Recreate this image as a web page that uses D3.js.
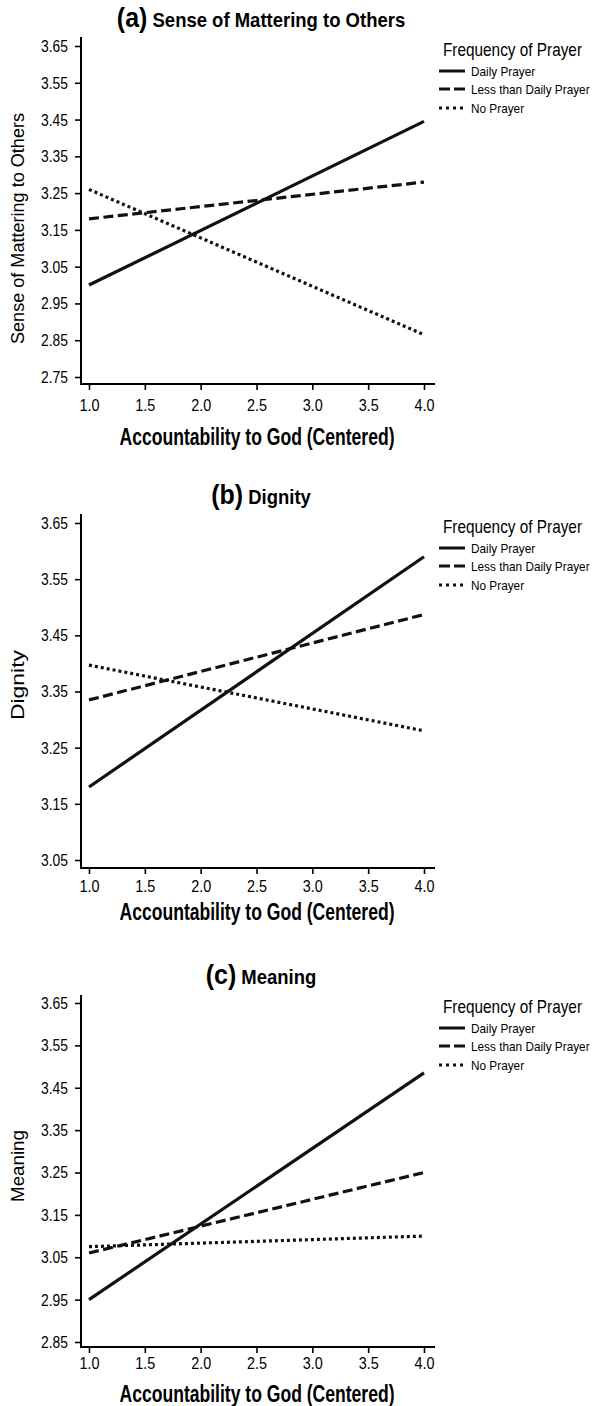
<!DOCTYPE html>
<html><head><meta charset="utf-8">
<script src="https://cdn.jsdelivr.net/npm/d3@7"></script>
<style>
body{margin:0;background:#fff}
svg{display:block}
text{font-family:"Liberation Sans",Arial,Helvetica,sans-serif;fill:#000}
</style>
</head><body><svg id="chart" width="600" height="1406"></svg>
<script>
// ---------- data ----------
const xValues = [1.0, 4.0];
const xTicks = [1.0, 1.5, 2.0, 2.5, 3.0, 3.5, 4.0];
const seriesNames = ["Daily Prayer", "Less than Daily Prayer", "No Prayer"];
const legendTitle = "Frequency of Prayer";
const xTitle = "Accountability to God (Centered)";
const panelLetters = ["(a)", "(b)", "(c)"];
const panelTitles = ["Sense of Mattering to Others", "Dignity", "Meaning"];
const yTitles = ["Sense of Mattering to Others", "Dignity", "Meaning"];
const yTicksA = [2.75, 2.85, 2.95, 3.05, 3.15, 3.25, 3.35, 3.45, 3.55, 3.65];
const yTicksB = [3.05, 3.15, 3.25, 3.35, 3.45, 3.55, 3.65];
const yTicksC = [2.85, 2.95, 3.05, 3.15, 3.25, 3.35, 3.45, 3.55, 3.65];
const matteringDaily = [3.00, 3.445];
const matteringLess  = [3.18, 3.28];
const matteringNone  = [3.26, 2.865];
const dignityDaily   = [3.18, 3.59];
const dignityLess    = [3.335, 3.487];
const dignityNone    = [3.397, 3.28];
const meaningDaily   = [2.95, 3.485];
const meaningLess    = [3.06, 3.25];
const meaningNone    = [3.075, 3.10];

// ---------- layout ----------
const dashes = [null, "10,4.5", "3,3"];
const xLeft = 81, xRight = 435;
const panels = [
  {ticks: yTicksA, series: [matteringDaily, matteringLess, matteringNone],
   yTopPx: 46, yBotPx: 377, axisTop: 37, axisBottom: 384, tickLabY: 405, xTitleY: 437, yTitleLen: 231, titleLen: 253},
  {ticks: yTicksB, series: [dignityDaily, dignityLess, dignityNone],
   yTopPx: 523, yBotPx: 860, axisTop: 514, axisBottom: 868, tickLabY: 886, xTitleY: 912, yTitleLen: 70, titleLen: 63},
  {ticks: yTicksC, series: [meaningDaily, meaningLess, meaningNone],
   yTopPx: 1003, yBotPx: 1342, axisTop: 995, axisBottom: 1347, tickLabY: 1363, xTitleY: 1394, yTitleLen: 72, titleLen: 76}
];

const svg = d3.select("#chart");
const x = d3.scaleLinear().domain([1, 4]).range([89, 424]);

panels.forEach((p, i) => {
  const g = svg.append("g");
  const y = d3.scaleLinear()
    .domain([d3.min(p.ticks), d3.max(p.ticks)])
    .range([p.yBotPx, p.yTopPx]);

  // axis lines
  g.append("line").attr("x1", xLeft).attr("x2", xLeft)
    .attr("y1", p.axisTop).attr("y2", p.axisBottom + 1)
    .attr("stroke", "#000").attr("stroke-width", 2);
  g.append("line").attr("x1", xLeft).attr("x2", xRight)
    .attr("y1", p.axisBottom).attr("y2", p.axisBottom)
    .attr("stroke", "#000").attr("stroke-width", 2);

  // y axis
  const ya = g.append("g").attr("transform", `translate(${xLeft},0)`)
    .call(d3.axisLeft(y).tickValues(p.ticks).tickFormat(d3.format(".2f"))
      .tickSize(6).tickSizeOuter(0).tickPadding(7));
  ya.select(".domain").remove();
  ya.selectAll(".tick line").attr("stroke", "#000").attr("stroke-width", 1.6);
  ya.selectAll(".tick text").attr("font-size", 17).attr("textLength", 27)
    .attr("lengthAdjust", "spacingAndGlyphs").attr("fill", "#000")
    .style("font-family", '"Liberation Sans",Arial,sans-serif');

  // x axis
  const xa = g.append("g").attr("transform", `translate(0,${p.axisBottom})`)
    .call(d3.axisBottom(x).tickValues(xTicks).tickFormat(d3.format(".1f"))
      .tickSize(6).tickSizeOuter(0));
  xa.select(".domain").remove();
  xa.selectAll(".tick line").attr("stroke", "#000").attr("stroke-width", 1.6);
  xa.selectAll(".tick text").attr("font-size", 17).attr("textLength", 20)
    .attr("lengthAdjust", "spacingAndGlyphs").attr("fill", "#000")
    .attr("y", p.tickLabY - p.axisBottom).attr("dy", "0.36em")
    .style("font-family", '"Liberation Sans",Arial,sans-serif');

  // x title
  g.append("text").attr("transform", `translate(257,${p.xTitleY}) scale(1,1.3)`)
    .attr("text-anchor", "middle").attr("dy", "0.36em")
    .attr("font-size", 17.7).attr("font-weight", "bold")
    .attr("textLength", 275).attr("lengthAdjust", "spacingAndGlyphs")
    .text(xTitle);

  // y title
  const cy = (p.axisTop + p.axisBottom) / 2 + (i === 0 ? 18 : (i === 1 ? -6 : -5));
  g.append("text").attr("transform", `translate(24,${cy}) rotate(-90)`)
    .attr("text-anchor", "middle").attr("font-size", 17.5)
    .attr("textLength", p.yTitleLen).attr("lengthAdjust", "spacingAndGlyphs")
    .text(yTitles[i]);

  // panel title
  const tb = p.yTopPx - 19;
  const t = g.append("text").attr("transform", `translate(261,${tb}) scale(1,1.12)`)
    .attr("text-anchor", "middle").attr("font-weight", "bold");
  t.append("tspan").attr("font-size", 25).text(panelLetters[i]);
  t.append("tspan").attr("font-size", 18.5).text(" " + panelTitles[i]);

  // lines
  const line = d3.line().x((d, k) => x(xValues[k])).y(d => y(d));
  p.series.forEach((s, k) => {
    g.append("path").datum(s).attr("d", line)
      .attr("fill", "none").attr("stroke", "#111").attr("stroke-width", 3.2)
      .attr("stroke-dasharray", dashes[k]);
  });

  // legend
  const lg = g.append("g");
  lg.append("text").attr("transform", `translate(443,${p.yTopPx + 10}) scale(1,1.25)`)
    .attr("font-size", 15.3).attr("textLength", 139).attr("lengthAdjust", "spacingAndGlyphs")
    .text(legendTitle);
  const rowOff = [25, 43, 62];
  seriesNames.forEach((n, k) => {
    const ry = p.yTopPx + rowOff[k];
    lg.append("line").attr("x1", 439).attr("x2", 465).attr("y1", ry).attr("y2", ry)
      .attr("stroke", "#111").attr("stroke-width", 3)
      .attr("stroke-dasharray", k === 1 ? "11,4" : (k === 2 ? "3,4" : null));
    lg.append("text").attr("transform", `translate(471,${ry}) scale(1,1.1)`)
      .attr("dy", "0.36em").attr("font-size", 11.8).text(n);
  });
});
</script>
</body></html>
